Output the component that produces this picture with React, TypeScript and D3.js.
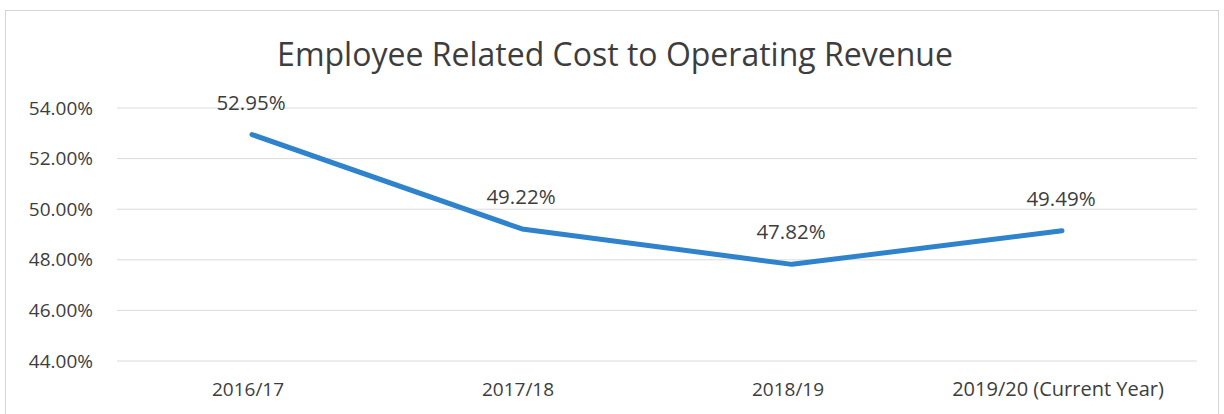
import React from 'react'
import * as d3 from 'd3'

// values (plotted positions) and the labels printed on it
const categories = ['2016/17', '2017/18', '2018/19', '2019/20 (Current Year)']
const values = [52.95, 49.22, 47.82, 49.15]
const valueLabels = ['52.95%', '49.22%', '47.82%', '49.49%']
const yTicks = [44, 46, 48, 50, 52, 54]
const title = 'Employee Related Cost to Operating Revenue'

const W = 1224
const H = 414
const font = "'Open Sans', 'Noto Sans', sans-serif"
const textColor = '#3d3d3d'

export default function App() {
  const left = 117, right = 1197, top = 108, bottom = 361

  const x = d3.scaleBand<string>().domain(categories).range([left, right])
  const y = d3.scaleLinear().domain([44, 54]).range([bottom, top])
  const cx = (c: string) => (x(c) as number) + x.bandwidth() / 2

  const line = d3.line<number>()
    .x((_, i) => cx(categories[i]))
    .y(d => y(d))

  return (
    <svg width={W} height={H} style={{ position: 'absolute', left: 0, top: 0, background: '#fff' }}>
      {/* chart frame */}
      <rect x={5.5} y={10.5} width={1213} height={420} fill="#fff" stroke="#d4d4d4" strokeWidth={1} />

      <text x={615} y={66} textAnchor="middle" fontFamily={font} fontSize={32} fill={textColor}>
        {title}
      </text>

      {/* gridlines + y axis labels */}
      {yTicks.map(t => (
        <g key={t}>
          <line x1={left} x2={right} y1={y(t)} y2={y(t)} stroke="#dadada" strokeWidth={1} />
          <text x={93} y={y(t)} dy="0.35em" textAnchor="end" fontFamily={font} fontSize={19} fill={textColor}>
            {t.toFixed(2) + '%'}
          </text>
        </g>
      ))}

      {/* category labels */}
      {categories.map((c, i) => (
        <text key={c} x={cx(c) - 4} y={396} textAnchor="middle" fontFamily={font}
          fontSize={i === 3 ? 20 : 19} fill={textColor}>
          {c}
        </text>
      ))}

      <path d={line(values) || ''} fill="none" stroke="#2f82cc" strokeWidth={5} strokeLinejoin="round" strokeLinecap="round" />

      {/* data labels */}
      {values.map((v, i) => (
        <text key={i} x={cx(categories[i]) - 1} y={y(v) - 25} textAnchor="middle" fontFamily={font} fontSize={20.5} fill={textColor}>
          {valueLabels[i]}
        </text>
      ))}
    </svg>
  )
}
